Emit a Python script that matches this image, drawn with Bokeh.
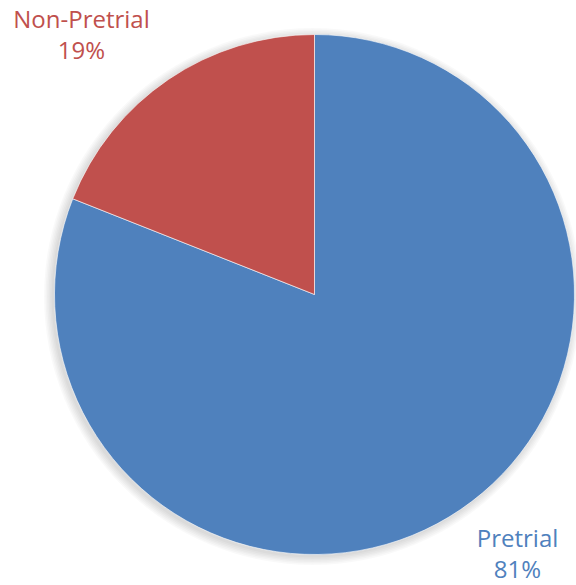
import math
from bokeh.plotting import figure
from bokeh.models import Range1d
from bokeh.core.properties import value
from bokeh.embed import file_html
from bokeh.resources import INLINE

categories = ["Pretrial", "Non-Pretrial"]
percents = [81, 19]
colors = ["#4F81BD", "#C0504D"]
label_lines = [["Pretrial", "81%"], ["Non-Pretrial", "19%"]]

W, H = 576, 585
p = figure(width=W, height=H, output_backend="svg", toolbar_location=None,
           x_range=Range1d(0, W), y_range=Range1d(0, H), min_border=0)
p.axis.visible = False
p.grid.visible = False
p.outline_line_color = None
p.background_fill_color = "white"

cx, cy, r = 314, 291, 260

# soft shadow
for i in range(6):
    p.circle(x=[cx - 2], y=[cy - 2], radius=r + 1 + i * 1.5, fill_color="black",
             fill_alpha=0.025, line_color=None)

# slices: start at top, go clockwise
total = sum(percents)
start = math.pi / 2
starts, ends = [], []
for v in percents:
    sweep = 2 * math.pi * v / total
    ends.append(start)
    starts.append(start - sweep)
    start -= sweep
p.wedge(x=cx, y=cy, radius=r, start_angle=starts, end_angle=ends,
        fill_color=colors, line_color="white", line_width=0.6)

# labels
label_pos = [(517, 48), (81, 567)]
for (lx, ly), lines, c in zip(label_pos, label_lines, colors):
    p.text(x=[lx, lx], y=[ly, ly - 31], text=lines, text_color=c,
           text_font=value("Open Sans"), text_font_size="24px",
           text_align="center", text_baseline="middle")

open("out.html", "w").write(file_html(p, INLINE))
